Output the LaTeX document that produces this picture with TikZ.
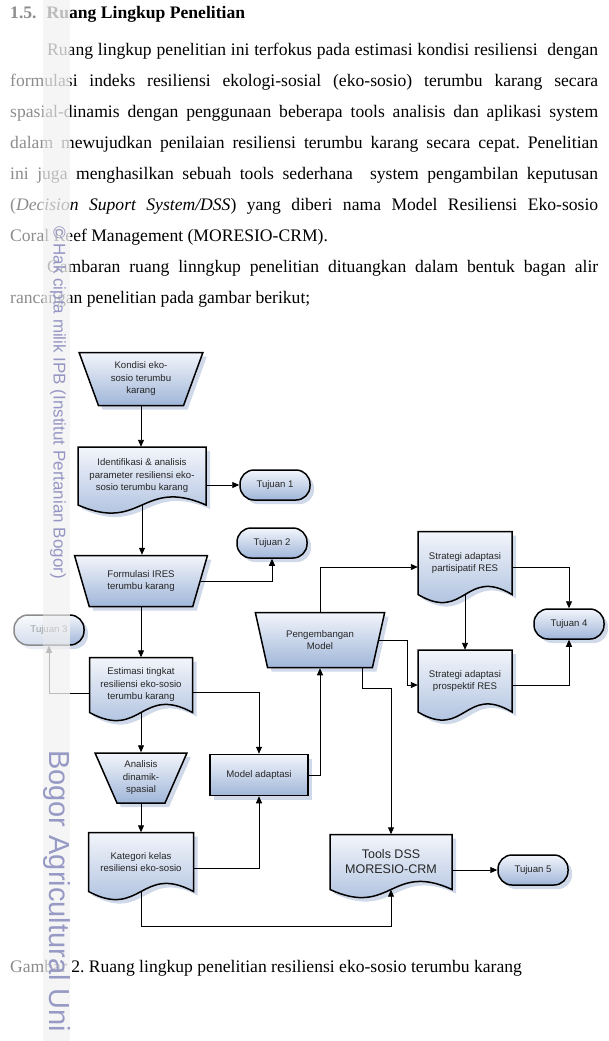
\documentclass[tikz,border=0pt]{standalone}
\usepackage{fontspec}
\setmainfont{Liberation Serif}
\newfontfamily\diagfont{Liberation Sans}
\usetikzlibrary{arrows.meta,shapes.geometric,shadows}
\frenchspacing

\definecolor{boxtop}{RGB}{242,245,251}
\definecolor{boxbot}{RGB}{160,182,217}
\definecolor{shadowblue}{RGB}{196,207,228}
\definecolor{wmark}{RGB}{150,150,196}
\definecolor{wmarkbig}{RGB}{150,154,196}

\tikzset{
  boxshade/.style={draw, line width=1.5pt, top color=boxtop, bottom color=boxbot,
    drop shadow={shadow xshift=4pt, shadow yshift=-4pt, fill=shadowblue, opacity=.8}},
  box/.style={boxshade, text=black!85, align=center,
    font=\diagfont\fontsize{9.6}{12.5}\selectfont},
  trap/.style={box, trapezium, shape border rotate=180, trapezium stretches=true, inner sep=0pt},
  goal/.style={box, rectangle, rounded corners=14pt, minimum width=70pt, minimum height=30pt, inner sep=0pt},
  doctext/.style={text=black!85, align=center, inner sep=0pt,
    font=\diagfont\fontsize{9.6}{12.5}\selectfont},
  arr/.style={-{Triangle[length=7pt,width=6pt]}, line width=0.9pt},
}

\newcommand{\docbox}[7][]{%
  \path[boxshade, shift={(#3,#4)}] (-#5/2,-#6/2) -- (#5/2,-#6/2) -- (#5/2,#6/2)
    .. controls (0,#6/2-28) and (0,#6/2+28) .. (-#5/2,#6/2) -- cycle;
  \node[doctext, minimum width=#5pt, minimum height=#6pt, #1] (#2) at (#3,#4) {#7};
}

\begin{document}
\begin{tikzpicture}[x=1pt, y=-1pt]
\useasboundingbox (0,0) rectangle (608,1041);

\node[anchor=base west, inner sep=0pt, font=\bfseries\fontsize{17.6}{20}\selectfont] (head) at (10,19)
  {1.5.\hspace{10pt}Ruang Lingkup Penelitian};
\node[anchor=base west, inner sep=0pt, text width=588pt, align=justify,
  font=\fontsize{17.6}{31}\selectfont] (para) at (10,56)
  {\hspace*{37pt}Ruang lingkup penelitian ini terfokus pada estimasi kondisi resiliensi\ \ dengan\linebreak
   formulasi indeks resiliensi ekologi-sosial (eko-sosio) terumbu karang secara\linebreak
   spasial-dinamis dengan penggunaan beberapa tools analisis dan aplikasi system\linebreak
   dalam mewujudkan penilaian resiliensi terumbu karang secara cepat. Penelitian\linebreak
   ini juga menghasilkan sebuah tools sederhana\ \ system pengambilan keputusan\linebreak
   (\textit{Decision Suport System/DSS}) yang diberi nama Model Resiliensi Eko-sosio\linebreak
   Coral Reef Management (MORESIO-CRM).\par
   \hspace*{37pt}Gambaran ruang linngkup penelitian dituangkan dalam bentuk bagan alir\linebreak
   rancangan penelitian pada gambar berikut;};

\node[trap, minimum width=125pt, minimum height=53pt, trapezium angle=68] (kondisi) at (141,379)
  {Kondisi eko-\\sosio terumbu\\karang};
\docbox{ident}{142}{476}{128}{58}{Identifikasi \& analisis\\parameter resiliensi eko-\\sosio terumbu karang}
\node[goal] (t1) at (275,485) {Tujuan 1};
\node[goal] (t2) at (272,543) {Tujuan 2};
\node[trap, minimum width=134pt, minimum height=51pt, trapezium angle=66] (formulasi) at (141,581)
  {Formulasi IRES\\terumbu karang};
\node[goal] (t3) at (49,630) {Tujuan 3};
\docbox{estim}{141}{685}{103}{55}{Estimasi tingkat\\resiliensi eko-sosio\\terumbu karang}
\node[trap, minimum width=92pt, minimum height=50pt, trapezium angle=64] (analisis) at (141,778)
  {Analisis\\dinamik-\\spasial};
\node[box, minimum width=98pt, minimum height=41pt] (madapt) at (259,775) {Model adaptasi};
\docbox{kateg}{141}{862}{105}{59}{Kategori kelas\\resiliensi eko-sosio}
\node[trap, minimum width=130pt, minimum height=55pt, trapezium angle=68] (pengemb) at (320,640)
  {Pengembangan\\Model};
\docbox{partis}{465}{563}{94}{63}{Strategi adaptasi\\partisipatif RES}
\docbox{prosp}{465}{681}{94}{62}{Strategi adaptasi\\prospektif RES}
\node[goal] (t4) at (569,624) {Tujuan 4};
\docbox[font=\diagfont\fontsize{12.5}{15}\selectfont]{tools}{391}{862}{122}{55}{Tools DSS\\MORESIO-CRM}
\node[goal] (t5) at (533,870) {Tujuan 5};

\draw[arr] (kondisi.south) -- (kondisi.south |- ident.north);
\draw[arr] (t1.west -| ident.east) -- (t1.west);
\draw[arr] (ident.south) -- (ident.south |- formulasi.north);
\draw[arr] (formulasi.east) -| (t2.south);
\draw[arr] (formulasi.south) -- (formulasi.south |- estim.north);
\draw[arr] ([yshift=-8pt]estim.west) -| (t3.south);
\draw[arr] ([yshift=-7pt]estim.east) -| (madapt.north);
\draw[arr] (estim.south) -- (estim.south |- analisis.north);
\draw[arr] (analisis.south) -- (analisis.south |- kateg.north);
\draw[arr] ([yshift=-6pt]kateg.east) -| (madapt.south);
\draw[arr] (madapt.east) -| (pengemb.south);
\draw[arr] (pengemb.north) |- ([yshift=-4pt]partis.west);
\draw[arr] (pengemb.east) -- ++(28,0) |- ([yshift=-4pt]prosp.west);
\draw[arr] ([xshift=42pt]pengemb.south) -- ++(0,20) -| (tools.north);
\draw[arr] (partis.south) -- (prosp.north);
\draw[arr] ([yshift=-4pt]partis.east) -| (t4.north);
\draw[arr] ([yshift=-4pt]prosp.east) -| (t4.south);
\draw[arr] (t5.west -| tools.east) -- (t5.west);
\draw[arr] (kateg.south) -- ++(0,35) -| (tools.south);

\node[anchor=base west, inner sep=0pt, font=\fontsize{17.6}{20}\selectfont] (caption) at (10,972)
  {Gambar 2. Ruang lingkup penelitian resiliensi eko-sosio terumbu karang};

\fill[white, opacity=.55] (0,0) rectangle (70,1041);
\fill[black!8, opacity=.5] (43,0) rectangle (70,1041);
\node[rotate=-90, anchor=west, inner sep=0pt, text=wmark, font=\diagfont\fontsize{17}{17}\selectfont] (wm1) at (58,226)
  {\textcopyright{} Hak cipta milik IPB (Institut Pertanian Bogor)};
\node[rotate=-90, anchor=west, inner sep=0pt, text=wmarkbig, font=\diagfont\fontsize{29}{29}\selectfont] (wm2) at (57,750)
  {Bogor Agricultural Uni};
\end{tikzpicture}
\end{document}
